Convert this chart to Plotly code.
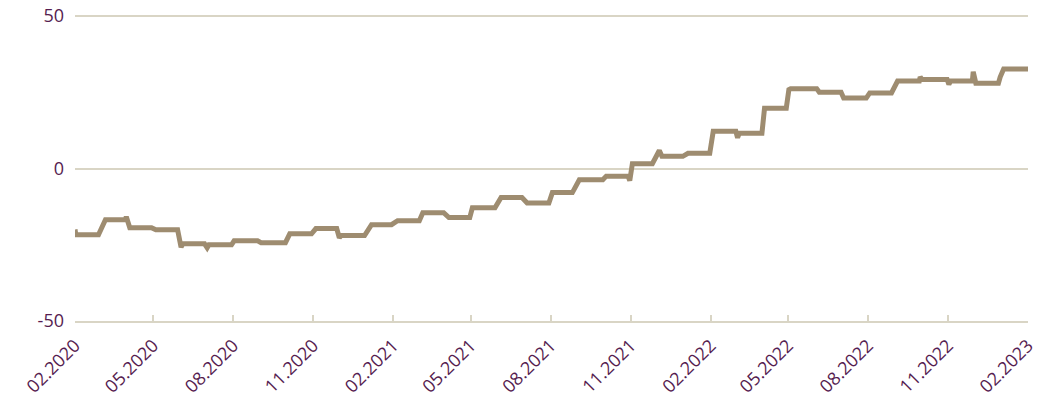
import plotly.graph_objs as go

LINE_COLOR = '#9e8c70'
GRID_COLOR = '#d9d5c5'
TEXT_COLOR = '#561d50'

# series (date, value)
dates = [
    '2020-02-01', '2020-02-02', '2020-02-28', '2020-03-07', '2020-03-30',
    '2020-03-31', '2020-04-04', '2020-04-29', '2020-05-04', '2020-05-29',
    '2020-06-02', '2020-06-04', '2020-06-29', '2020-07-02', '2020-07-04',
    '2020-07-30', '2020-08-02', '2020-08-29', '2020-09-02', '2020-09-30',
    '2020-10-05', '2020-10-30', '2020-11-04', '2020-11-28', '2020-12-01',
    '2020-12-03', '2020-12-30', '2021-01-07', '2021-01-30', '2021-02-06',
    '2021-03-03', '2021-03-07', '2021-03-31', '2021-04-06', '2021-04-30',
    '2021-05-03', '2021-05-29', '2021-06-05', '2021-06-29', '2021-07-05',
    '2021-07-30', '2021-08-03', '2021-08-26', '2021-09-03', '2021-09-30',
    '2021-10-04', '2021-10-29', '2021-10-31', '2021-11-03', '2021-11-26',
    '2021-12-04', '2021-12-07', '2021-12-31', '2022-01-06', '2022-01-31',
    '2022-02-04', '2022-03-02', '2022-03-04', '2022-03-06', '2022-04-01',
    '2022-04-04', '2022-04-29', '2022-05-02', '2022-05-04', '2022-06-03',
    '2022-06-06', '2022-07-01', '2022-07-04', '2022-07-30', '2022-08-03',
    '2022-08-28', '2022-09-04', '2022-09-29', '2022-09-30', '2022-10-02',
    '2022-10-31', '2022-11-02', '2022-11-04', '2022-11-29', '2022-11-30',
    '2022-12-03', '2022-12-29', '2022-12-31', '2023-01-04', '2023-02-01',
]
values = [
    -20.0, -21.7, -21.7, -16.8, -16.8,
    -15.8, -19.4, -19.4, -20.1, -20.1,
    -25.8, -24.7, -24.7, -26.0, -25.0,
    -25.0, -23.7, -23.7, -24.3, -24.3,
    -21.4, -21.4, -19.7, -19.7, -22.7,
    -22.0, -22.0, -18.4, -18.4, -17.1,
    -17.1, -14.5, -14.5, -16.1, -16.1,
    -12.9, -12.9, -9.5, -9.5, -11.3,
    -11.3, -7.9, -7.9, -3.7, -3.7,
    -2.5, -2.5, -4.0, 1.6, 1.6,
    5.9, 4.0, 4.0, 5.0, 5.0,
    12.2, 12.2, 10.1, 11.6, 11.6,
    19.8, 19.8, 25.9, 26.2, 26.2,
    25.0, 25.0, 23.1, 23.1, 24.8,
    24.8, 28.7, 28.7, 30.0, 29.2,
    29.2, 27.6, 28.7, 28.7, 31.7,
    28.0, 28.0, 30.0, 32.6, 32.6,
]

x_start = '2020-02-01'
x_end = '2023-02-01'
y_ticks = [-50, 0, 50]
y_labels = ['-50', '0', '50']

fig = go.Figure()
fig.add_trace(
    go.Scatter(
        x=dates,
        y=values,
        mode='lines',
        line=dict(color=LINE_COLOR, width=5),
        showlegend=False,
    )
)

fig.update_layout(
    width=1053,
    height=401,
    margin=dict(l=75, r=25, t=13, b=80),
    paper_bgcolor='white',
    plot_bgcolor='white',
    font=dict(family='Open Sans', size=18, color=TEXT_COLOR),
    xaxis=dict(
        range=[x_start, x_end],
        tick0=x_start,
        dtick='M3',
        tickformat='%m.%Y',
        tickangle=-45,
        automargin=False,
        showgrid=False,
        showline=True,
        linecolor=GRID_COLOR,
        linewidth=2,
        ticks='inside',
        ticklen=6,
        tickcolor=GRID_COLOR,
        tickwidth=1.5,
        zeroline=False,
        ticklabelstandoff=5,
    ),
    yaxis=dict(
        # a little headroom so the top gridline at 50 is still drawn
        range=[-50, 51],
        tickvals=y_ticks,
        ticktext=y_labels,
        automargin=False,
        showgrid=True,
        gridcolor=GRID_COLOR,
        gridwidth=1.5,
        zeroline=False,
        ticks='',
        ticklabelstandoff=10,
    ),
)

fig.write_html(
    'out.html',
    config={'displayModeBar': False},
    post_script="document.body.style.margin = '0';",
)
